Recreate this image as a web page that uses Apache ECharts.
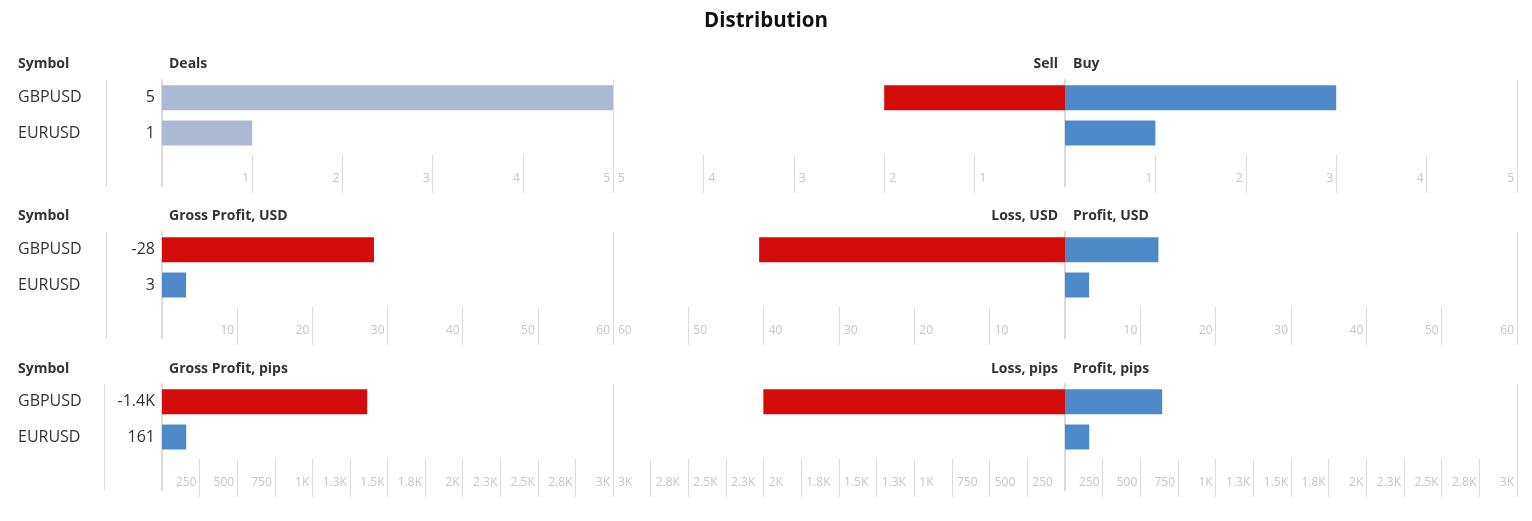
<!DOCTYPE html>
<html>
<head>
<meta charset="utf-8">
<script src="https://cdn.jsdelivr.net/npm/echarts@6/dist/echarts.min.js"></script>
<style>html,body{margin:0;padding:0;background:#fff;}#c{width:1532px;height:521px;}</style>
</head>
<body>
<div id="c"></div>
<script>
// ---- data ----
const symbols = ['GBPUSD', 'EURUSD'];
const chartTitle = 'Distribution';
const panelHeaders = [
  ['Deals', 'Sell', 'Buy'],
  ['Gross Profit, USD', 'Loss, USD', 'Profit, USD'],
  ['Gross Profit, pips', 'Loss, pips', 'Profit, pips']
];
const dealsTotal = [5, 1];
const dealsTotalLabels = ['5', '1'];
const dealsSell = [2, 0];
const dealsBuy = [3, 1];

const usdGross = [-28.2, 3.2];
const usdGrossLabels = ['-28', '3'];
const usdLoss = [40.6, 0];
const usdProfit = [12.4, 3.2];

const pipsGross = [-1365, 161];
const pipsGrossLabels = ['-1.4K', '161'];
const pipsLoss = [2002, 0];
const pipsProfit = [645, 161];

const dealsTicks = [1, 2, 3, 4, 5];
const dealsTickLabels = ['1', '2', '3', '4', '5'];
const usdTicks = [10, 20, 30, 40, 50, 60];
const usdTickLabels = ['10', '20', '30', '40', '50', '60'];
const pipsTicks = [250, 500, 750, 1000, 1250, 1500, 1750, 2000, 2250, 2500, 2750, 3000];
const pipsTickLabels = ['250', '500', '750', '1K', '1.3K', '1.5K', '1.8K', '2K', '2.3K', '2.5K', '2.8K', '3K'];
const axisMax = [5, 60, 3000];

// ---- styling ----
const FONT = 'Open Sans';
const RED = '#d30b0b', BLUE = '#4f8ac8', GREY = '#abb9d2';
const LINE = '#dcdcdc';

const panels = [
  { total: dealsTotal, totalLabels: dealsTotalLabels, left: dealsSell, right: dealsBuy, ticks: dealsTicks, tickLabels: dealsTickLabels, signed: false },
  { total: usdGross, totalLabels: usdGrossLabels, left: usdLoss, right: usdProfit, ticks: usdTicks, tickLabels: usdTickLabels, signed: true },
  { total: pipsGross, totalLabels: pipsGrossLabels, left: pipsLoss, right: pipsProfit, ticks: pipsTicks, tickLabels: pipsTickLabels, signed: true }
];

const panelTops = [80, 232, 384];
const headerTops = [57, 209, 362];
const symOffset = [56, 56, 58];
const colLeft = [162, 613, 1065];
const colWidth = [451, 452, 452];
const H = 106;
const SYM_X = 18;
const cats = symbols.concat(['']);

const grids = [], xAxes = [], yAxes = [], series = [];
const titles = [{
  text: chartTitle, left: 'center', top: 11, padding: 0,
  textStyle: { fontFamily: FONT, fontSize: 20.5, fontWeight: 'bold', color: '#111' }
}];

panels.forEach((P, p) => {
  const hdr = panelHeaders[p];
  const hs = { fontFamily: FONT, fontSize: 14, fontWeight: 'bold', color: '#333' };
  titles.push({ text: 'Symbol', left: SYM_X, top: headerTops[p], padding: 0, textStyle: hs });
  titles.push({ text: hdr[0], left: 169, top: headerTops[p], padding: 0, textStyle: hs });
  titles.push({ text: hdr[1], right: 1532 - 1058, top: headerTops[p], padding: 0, textStyle: hs });
  titles.push({ text: hdr[2], left: 1073, top: headerTops[p], padding: 0, textStyle: hs });

  for (let c = 0; c < 3; c++) {
    grids.push({ left: colLeft[c], top: panelTops[p], width: colWidth[c], height: H });
    const gi = grids.length - 1;
    xAxes.push({
      type: 'value', gridIndex: gi, min: 0, max: axisMax[p], inverse: c === 1,
      offset: 7,
      axisLine: { show: false }, splitLine: { show: false },
      axisTick: { show: true, inside: true, length: 38, customValues: P.ticks, lineStyle: { color: LINE, width: 1 } },
      axisLabel: {
        show: true, inside: true, customValues: P.ticks, margin: 8,
        fontFamily: FONT, fontSize: 12, color: '#c6c6c6',
        align: c === 1 ? 'left' : 'right',
        padding: c === 1 ? [0, 0, 0, 5] : [0, 3, 0, 0],
        showMinLabel: true, showMaxLabel: true,
        formatter: (v) => { const i = P.ticks.indexOf(v); return i >= 0 ? P.tickLabels[i] : ''; }
      }
    });
    const leftY = yAxes.length;
    yAxes.push({
      type: 'category', gridIndex: gi, data: cats, inverse: true, position: 'left',
      axisLine: { show: true, lineStyle: { color: LINE, width: c === 1 ? 1 : 2 } },
      axisTick: { show: false },
      axisLabel: c === 0 ? {
        show: true, margin: 7, fontFamily: FONT, fontSize: 16, color: '#333',
        formatter: (v, i) => (i < P.totalLabels.length ? P.totalLabels[i] : '')
      } : { show: false }
    });
    yAxes.push({
      type: 'category', gridIndex: gi, data: cats, inverse: true, position: 'right',
      axisLine: { show: true, lineStyle: { color: LINE, width: c === 1 ? 2 : 1 } },
      axisTick: { show: false }, axisLabel: { show: false }
    });
    if (c === 0) {
      yAxes.push({
        type: 'category', gridIndex: gi, data: cats, inverse: true, position: 'left',
        offset: symOffset[p],
        axisLine: { show: true, lineStyle: { color: LINE, width: 1 } },
        axisTick: { show: false },
        axisLabel: { show: true, align: 'left', margin: colLeft[0] - symOffset[p] - SYM_X, fontFamily: FONT, fontSize: 16, color: '#333' }
      });
    }
    let data;
    if (c === 0) {
      data = P.total.map(v => ({ value: Math.abs(v), itemStyle: { color: P.signed ? (v < 0 ? RED : BLUE) : GREY } }));
    } else if (c === 1) {
      data = P.left.map(v => ({ value: v, itemStyle: { color: RED } }));
    } else {
      data = P.right.map(v => ({ value: v, itemStyle: { color: BLUE } }));
    }
    data.push('-');
    series.push({
      type: 'bar', xAxisIndex: gi, yAxisIndex: leftY, data: data,
      barWidth: 25, silent: true, z: 1
    });
  }
});

const chart = echarts.init(document.getElementById('c'), null, { renderer: 'canvas' });
chart.setOption({
  animation: false,
  textStyle: { fontFamily: FONT },
  title: titles,
  grid: grids,
  xAxis: xAxes,
  yAxis: yAxes,
  series: series
});
</script>
</body>
</html>
